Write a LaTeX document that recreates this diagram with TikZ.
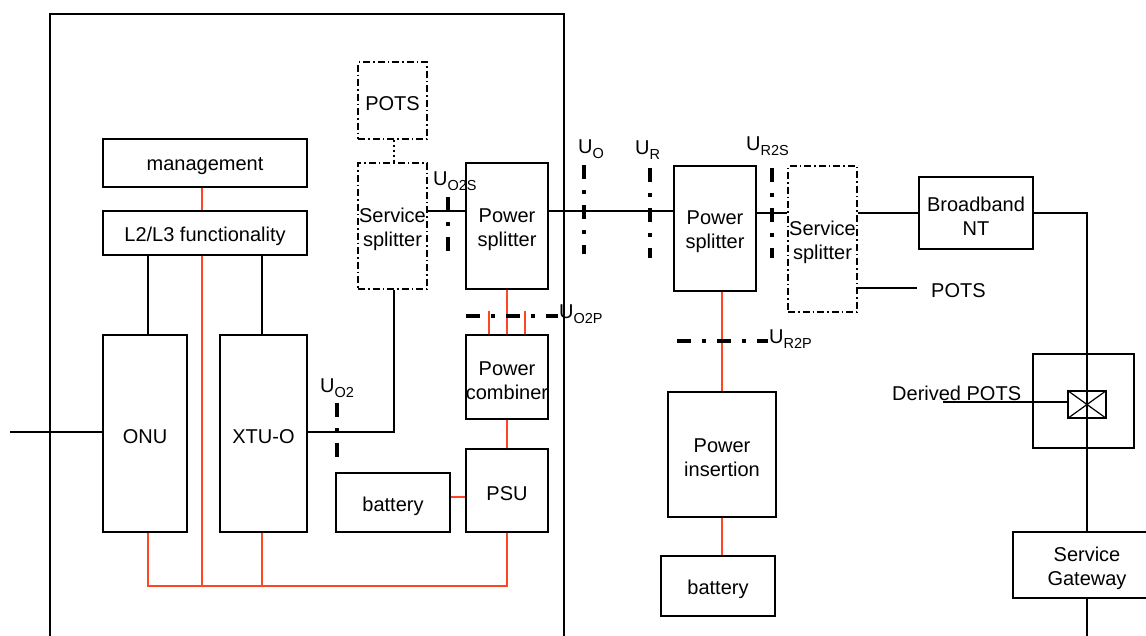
\documentclass[tikz,border=0pt]{standalone}
\usepackage{fontspec}
\setmainfont{Liberation Sans}
\definecolor{pwr}{RGB}{255,69,34}
\newcommand\usub[1]{\raisebox{-5pt}{\fontsize{14.5}{14.5}\selectfont #1}}
\begin{document}
\begin{tikzpicture}[x=1pt,y=-1pt,
 bx/.style={draw,line width=1.2pt,inner sep=0pt},
 tx/.style={inner sep=0pt,align=center,yshift=-3.5pt,font=\fontsize{20}{24}\selectfont},
 dd/.style={dash pattern=on 7pt off 3pt on 1.5pt off 3pt},
 pw/.style={draw=pwr,line width=1.3pt},
 ln/.style={line width=1.2pt},
 ifc/.style={line width=4pt,dash pattern=on 14pt off 11pt on 4pt off 11pt},
 lab/.style={anchor=base west,inner sep=0pt,font=\fontsize{20}{24}\selectfont}]
\useasboundingbox (0,0) rectangle (1146,635);
\clip (0,0) rectangle (1146,635);
\fill[white] (0,0) rectangle (1146,635);

% outer enclosure
\draw[ln] (50,660) -- (50,14) -- (564,14) -- (564,660);

% boxes
\node[bx,minimum width=204pt,minimum height=48pt,label={[tx]center:management}] (mgmt) at (205,163) {};
\node[bx,minimum width=204pt,minimum height=44pt,label={[tx]center:L2/L3 functionality}] (l2) at (205,233) {};
\node[bx,minimum width=84pt,minimum height=197pt,label={[tx]center:ONU}] (onu) at (145,433.5) {};
\node[bx,minimum width=87pt,minimum height=197pt,label={[tx]center:XTU-O}] (xtu) at (263.5,433.5) {};
\node[bx,minimum width=114pt,minimum height=59pt,label={[tx]center:battery}] (bat1) at (393,502.5) {};
\node[bx,minimum width=82pt,minimum height=83pt,label={[tx]center:PSU}] (psu) at (507,490.5) {};
\node[bx,minimum width=82pt,minimum height=84pt,label={[tx]center:{Power\\combiner}}] (comb) at (507,377) {};
\node[bx,minimum width=82pt,minimum height=126pt,label={[tx]center:{Power\\splitter}}] (psp1) at (507,226) {};
\node[bx,dd,minimum width=69pt,minimum height=126pt,label={[tx]center:{Service\\splitter}}] (ssp1) at (392.5,226) {};
\node[bx,dd,minimum width=69pt,minimum height=77pt,label={[tx]center:POTS}] (pots1) at (392.5,100.5) {};
\node[bx,minimum width=82pt,minimum height=125pt,label={[tx]center:{Power\\splitter}}] (psp2) at (715,228.5) {};
\node[bx,dd,minimum width=69pt,minimum height=146pt,label={[tx]center:{Service\\splitter}}] (ssp2) at (822.5,239) {};
\node[bx,minimum width=114pt,minimum height=72pt,label={[tx]center:{Broadband\\NT}}] (nt) at (976,213) {};
\node[bx,minimum width=101pt,minimum height=94pt] (sq) at (1083.5,401) {};
\node[bx,minimum width=38pt,minimum height=27pt] (xbox) at (1087,404.5) {};
\node[bx,minimum width=108pt,minimum height=125pt,label={[tx]center:{Power\\insertion}}] (pins) at (722,454.5) {};
\node[bx,minimum width=114pt,minimum height=60pt,label={[tx]center:battery}] (bat2) at (718,586) {};
\node[bx,minimum width=148pt,minimum height=66pt,label={[tx]center:{Service\\Gateway}}] (sg) at (1087,565) {};

% coordinates
\coordinate (in) at (10,432);
\coordinate (busy) at (0,586);
\coordinate (sigL) at (0,211);
\coordinate (sigR) at (0,213);
\coordinate (potsR) at (917,288);
\coordinate (dp) at (943,402);
\coordinate (bot) at (1087,660);

% black connectors
\draw[ln] (in) -- (in -| onu.west);
\draw[ln] ([xshift=3pt]onu.north) -- ([xshift=3pt]onu.north |- l2.south);
\draw[ln] ([xshift=-1.5pt]xtu.north) -- ([xshift=-1.5pt]xtu.north |- l2.south);
\draw[ln] (xtu.east |- in) -| ([xshift=1.5pt]ssp1.south);
\draw[ln,dash pattern=on 2pt off 3pt] ([xshift=1.5pt]pots1.south) -- ([xshift=1.5pt]ssp1.north);
\draw[ln] (ssp1.east |- sigL) -- (psp1.west |- sigL);
\draw[ln] (psp1.east |- sigL) -- (psp2.west |- sigL);
\draw[ln] (psp2.east |- sigR) -- (ssp2.west |- sigR);
\draw[ln] (ssp2.east |- sigR) -- (nt.west |- sigR);
\draw[ln] (ssp2.east |- potsR) -- (potsR);
\draw[ln] (nt.east) -| (sg.north);
\draw[ln] (sg.south) -- (bot);
\draw[ln] (dp) -- (dp -| xbox.west);
\draw[ln] (xbox.north west) -- (xbox.south east) (xbox.north east) -- (xbox.south west);

% power connectors
\draw[pw] ([xshift=-3pt]mgmt.south) -- ([xshift=-3pt]l2.north);
\draw[pw] ([xshift=-3pt]l2.south) -- ([xshift=-3pt]l2.south |- busy);
\draw[pw] ([xshift=3pt]onu.south) -- ([xshift=3pt]onu.south |- busy) -| (psu.south);
\draw[pw] ([xshift=-1.5pt]xtu.south) -- ([xshift=-1.5pt]xtu.south |- busy);
\draw[pw] ([yshift=5.5pt]bat1.east) -- ([yshift=5.5pt]bat1.east -| psu.west);
\draw[pw] (psu.north) -- (comb.south);
\draw[pw] (comb.north) -- (psp1.south);
\draw[pw] ([xshift=-18pt]comb.north) -- ++(0,-23);
\draw[pw] ([xshift=18pt]comb.north) -- ++(0,-23);
\draw[pw] (pins.north) -- (pins.north |- psp2.south);
\draw[pw] (pins.south) -- (pins.south |- bat2.north);

% interface reference points
\draw[ifc] (336.6,403) -- (336.6,459);
\draw[ifc] (448,197) -- (448,252);
\draw[ifc] (584,165) -- (584,254);
\draw[ifc] (650,168) -- (650,258);
\draw[ifc] (772,168) -- (772,258);
\draw[ifc] (466,316) -- (558,316);
\draw[ifc] (677,341) -- (768,341);

% labels
\node[lab] (lo2) at (320,392) {U\usub{O2}};
\node[lab] (lo2s) at (433,185) {U\usub{O2S}};
\node[lab] (lo) at (578,153) {U\usub{O}};
\node[lab] (lr) at (635,154) {U\usub{R}};
\node[lab] (lr2s) at (746,150) {U\usub{R2S}};
\node[lab] (lo2p) at (559,318.5) {U\usub{O2P}};
\node[lab] (lr2p) at (769,343) {U\usub{R2P}};
\node[lab] (potsl) at (931,297) {POTS};
\node[lab] (dpl) at (892,400) {Derived POTS};
\end{tikzpicture}
\end{document}
